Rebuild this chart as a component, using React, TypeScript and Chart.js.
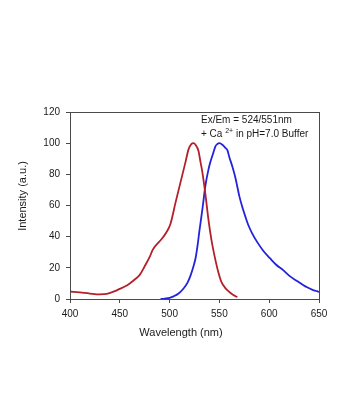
import React, { useEffect, useRef } from "react";
import { Chart, registerables } from "chart.js";

Chart.register(...registerables);

const excitationWavelengths = [400, 410, 420, 430, 437, 445, 450, 455, 460, 465, 470, 475, 480, 483, 487, 492, 497, 501, 506, 511, 516, 519, 522, 524, 526, 529, 531, 533, 536, 539, 542, 545, 549, 552, 556, 560, 564, 568];
const excitationValues = [4.8, 4.2, 3.5, 3.0, 3.3, 5, 6.5, 8, 10, 12.5, 15.5, 21, 27, 31.5, 35, 38.5, 43, 48.5, 62, 75, 88, 96, 99.5, 100, 99, 95, 88, 81, 67, 51, 38, 28, 17, 11, 7, 4.5, 2.5, 1.2];

const emissionWavelengths = [491, 495, 500, 504, 509, 514, 518, 521, 524, 526, 528, 530, 533, 536, 539, 541, 544, 546, 548, 550, 553, 556, 558, 560, 563, 566, 568, 570, 573, 576, 579, 583, 588, 594, 601, 607, 614, 620, 628, 634, 638, 643, 648, 650];
const emissionValues = [0, 0.3, 0.8, 1.7, 3.5, 6.7, 10.5, 15, 21, 26, 34, 44, 58, 73, 83, 88, 94, 98, 99.5, 100, 99, 97, 95.5, 91, 85, 78, 72, 66, 59, 53, 47.5, 42, 36.5, 31, 26, 22, 18.5, 15, 11.5, 9, 7.5, 6, 5, 4.5];

const xTitle = "Wavelength (nm)";
const yTitle = "Intensity (a.u.)";
const noteLine1 = "Ex/Em = 524/551nm";
const noteLine2a = "+ Ca ";
const noteSup = "2+";
const noteLine2b = " in pH=7.0 Buffer";

const FONT = "'Liberation Sans', Arial, sans-serif";
const AXIS_COLOR = "#4a4a4a";
const TEXT_COLOR = "#1a1a1a";

const decorPlugin = {
  id: "decor",
  afterDraw(chart: any) {
    const { ctx, chartArea } = chart;
    const { left, top, right, bottom } = chartArea;
    ctx.save();
    ctx.strokeStyle = AXIS_COLOR;
    ctx.lineWidth = 1;
    ctx.strokeRect(Math.round(left) + 0.5, Math.round(top) + 0.5, Math.round(right - left), Math.round(bottom - top));
    ctx.fillStyle = TEXT_COLOR;
    ctx.textBaseline = "middle";
    ctx.textAlign = "left";
    ctx.font = `10px ${FONT}`;
    const nx = left + 131;
    ctx.fillText(noteLine1, nx, top + 8);
    const y2 = top + 22;
    ctx.fillText(noteLine2a, nx, y2);
    let w = ctx.measureText(noteLine2a).width;
    ctx.font = `7px ${FONT}`;
    ctx.fillText(noteSup, nx + w, y2 - 3);
    w += ctx.measureText(noteSup).width;
    ctx.font = `10px ${FONT}`;
    ctx.fillText(noteLine2b, nx + w, y2);
    ctx.font = `11px ${FONT}`;
    ctx.textAlign = "center";
    ctx.fillText(xTitle, left + 111, bottom + 34);
    ctx.save();
    ctx.translate(left - 47, top + 84);
    ctx.rotate(-Math.PI / 2);
    ctx.fillText(yTitle, 0, 0);
    ctx.restore();
    ctx.restore();
  },
};

export default function App() {
  const ref = useRef<HTMLCanvasElement | null>(null);
  useEffect(() => {
    if (!ref.current) return;
    const chart = new Chart(ref.current, {
      type: "line",
      data: {
        datasets: [
          {
            label: "Excitation",
            data: excitationWavelengths.map((x, i) => ({ x, y: excitationValues[i] })),
            borderColor: "#B3202A",
            borderWidth: 1.8,
            pointRadius: 0,
            cubicInterpolationMode: "monotone",
            fill: false,
          },
          {
            label: "Emission",
            data: emissionWavelengths.map((x, i) => ({ x, y: emissionValues[i] })),
            borderColor: "#2323DC",
            borderWidth: 1.8,
            pointRadius: 0,
            cubicInterpolationMode: "monotone",
            fill: false,
          },
        ],
      },
      options: {
        responsive: false,
        animation: false,
        layout: { padding: { left: 0, top: 112, right: 42, bottom: 0 } },
        plugins: { legend: { display: false }, tooltip: { enabled: false } },
        scales: {
          x: {
            type: "linear",
            min: 400,
            max: 650,
            ticks: { stepSize: 50, color: TEXT_COLOR, font: { size: 10, family: FONT }, padding: 5, maxRotation: 0 },
            grid: { drawOnChartArea: false, drawTicks: true, tickLength: 4, color: AXIS_COLOR },
            border: { color: AXIS_COLOR, width: 1 },
            afterFit: (s: any) => {
              s.height = 120;
              s.paddingLeft = 0;
              s.paddingRight = 0;
            },
          },
          y: {
            min: 0,
            max: 120,
            ticks: { stepSize: 20, color: TEXT_COLOR, font: { size: 10, family: FONT }, padding: 6 },
            grid: { drawOnChartArea: false, drawTicks: true, tickLength: 4, color: AXIS_COLOR },
            border: { color: AXIS_COLOR, width: 1 },
            afterFit: (s: any) => {
              s.width = 70;
              s.paddingTop = 0;
              s.paddingBottom = 0;
            },
          },
        },
      },
      plugins: [decorPlugin],
    });
    return () => chart.destroy();
  }, []);
  return (
    <div style={{ position: "absolute", left: 0, top: 0, width: 361, height: 419, background: "#fff" }}>
      <canvas ref={ref} width={361} height={419} />
    </div>
  );
}
